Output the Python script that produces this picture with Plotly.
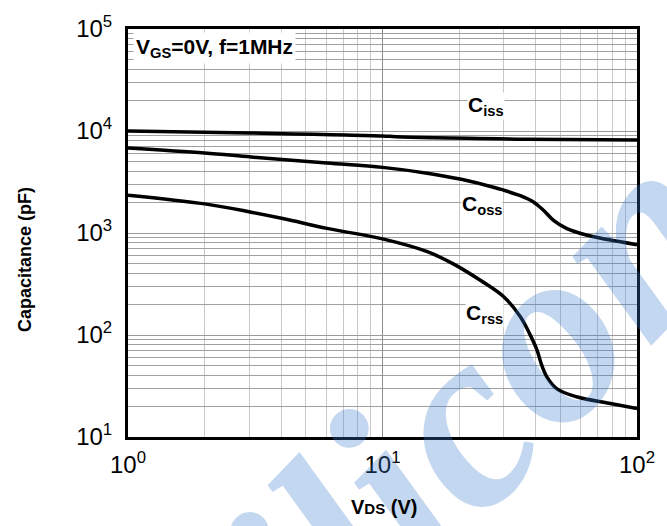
import plotly.graph_objects as go

# ---- data ----
ciss_v = [1, 3, 10, 11.3, 37, 100]
ciss_c = [10000, 9560, 8950, 8780, 8320, 8140]

coss_v = [1, 2, 3.05, 6.05, 10, 15.2, 20.4, 27.5, 34.8, 39.3, 43.0, 47.0, 52.8, 63.2, 77.7, 100]
coss_c = [6800, 6080, 5560, 4850, 4400, 3840, 3360, 2790, 2320, 2000, 1660, 1330, 1110, 955, 857, 767]

crss_v = [1, 2, 3.05, 4.1, 6.05, 10, 15, 19.2, 24.4, 30, 34.8, 37.7, 40.4, 42.3, 44.3, 48.3, 57.8, 77.7, 100]
crss_c = [2350, 1930, 1600, 1380, 1110, 875, 656, 490, 340, 236, 151, 105, 72, 50, 38.6, 29.8, 24.8, 21.4, 19]

x_tick_vals = [1, 10, 100]
x_tick_text = ["10<sup>0</sup>", "10<sup>1</sup>", "10<sup>2</sup>"]
y_tick_vals = [10, 100, 1000, 10000, 100000]
y_tick_text = ["10<sup>1</sup>", "10<sup>2</sup>", "10<sup>3</sup>", "10<sup>4</sup>", "10<sup>5</sup>"]

FONT = "Liberation Sans, Arial, sans-serif"

fig = go.Figure()
for xs, ys, name in [(ciss_v, ciss_c, "Ciss"), (coss_v, coss_c, "Coss"), (crss_v, crss_c, "Crss")]:
    fig.add_trace(go.Scatter(x=xs, y=ys, mode="lines", name=name,
                             line=dict(color="black", width=3.5, shape="spline", smoothing=1.0),
                             showlegend=False))

fig.update_layout(
    width=667, height=526,
    margin=dict(l=128, r=22, t=19, b=89),
    paper_bgcolor="white", plot_bgcolor="white",
    font=dict(family=FONT, color="black"),
)

fig.update_xaxes(
    type="log", range=[0, 2],
    tickvals=x_tick_vals, ticktext=x_tick_text,
    tickfont=dict(size=24, family=FONT),
    showgrid=True, gridcolor="#8c8c8c", gridwidth=1,
    minor=dict(showgrid=True, gridcolor="#c8c8c8", gridwidth=1, dtick="D1", ticks=""),
    showline=True, linecolor="black", linewidth=3, mirror=True,
    ticks="", ticklabelstandoff=4, zeroline=False,
)
fig.update_yaxes(
    type="log", range=[1, 5],
    tickvals=y_tick_vals, ticktext=y_tick_text,
    tickfont=dict(size=24, family=FONT),
    showgrid=True, gridcolor="#9a9a9a", gridwidth=1,
    minor=dict(showgrid=True, gridcolor="#a0a0a0", gridwidth=1, dtick="D1", ticks=""),
    showline=True, linecolor="black", linewidth=3, mirror=True,
    ticks="", ticklabelstandoff=8, zeroline=False,
)

annos = []
# watermark
annos.append(dict(text="<b><i>silicon</i></b>", xref="paper", yref="paper", x=(444 - 128) / 517, y=(437 - 440) / 418,
                  xanchor="center", yanchor="middle",
                  showarrow=False, textangle=-46, opacity=0.3,
                  font=dict(family="Liberation Serif, Times New Roman, serif", size=258, color="#3d7fd0")))
# curve labels
label_font = dict(family=FONT, size=21, color="black")
for txt, lx, ly in [("<b>C<sub>iss</sub></b>", 1.405, 4.25),
                    ("<b>C<sub>oss</sub></b>", 1.39, 3.275),
                    ("<b>C<sub>rss</sub></b>", 1.400, 2.21)]:
    annos.append(dict(text=txt, x=lx, y=ly, xref="x", yref="y", showarrow=False,
                      xanchor="center", yanchor="middle",
                      bgcolor="white", borderpad=0, font=label_font))
annos.append(dict(text="<b>V<sub>GS</sub>=0V, f=1MHz</b>", xref="paper", yref="paper",
                  x=(216 - 128) / 517, y=(437 - 38) / 418, xanchor="center", yanchor="middle",
                  showarrow=False, bgcolor="white", borderpad=2, font=label_font))
# axis titles
annos.append(dict(text="<b>Capacitance (pF)</b>", xref="paper", yref="paper",
                  x=(24 - 128) / 517, y=(437 - 255) / 418, xanchor="center", yanchor="middle",
                  textangle=-90, showarrow=False, font=dict(family=FONT, size=18, color="black")))
annos.append(dict(text="<b>V<span style='font-size:15px'>DS</span> (V)</b>", xref="paper", yref="paper",
                  x=(388 - 128) / 517, y=(437 - 509) / 418, xanchor="center", yanchor="middle",
                  showarrow=False, font=dict(family=FONT, size=20, color="black")))
fig.update_layout(annotations=annos)

fig.write_html("out.html")
